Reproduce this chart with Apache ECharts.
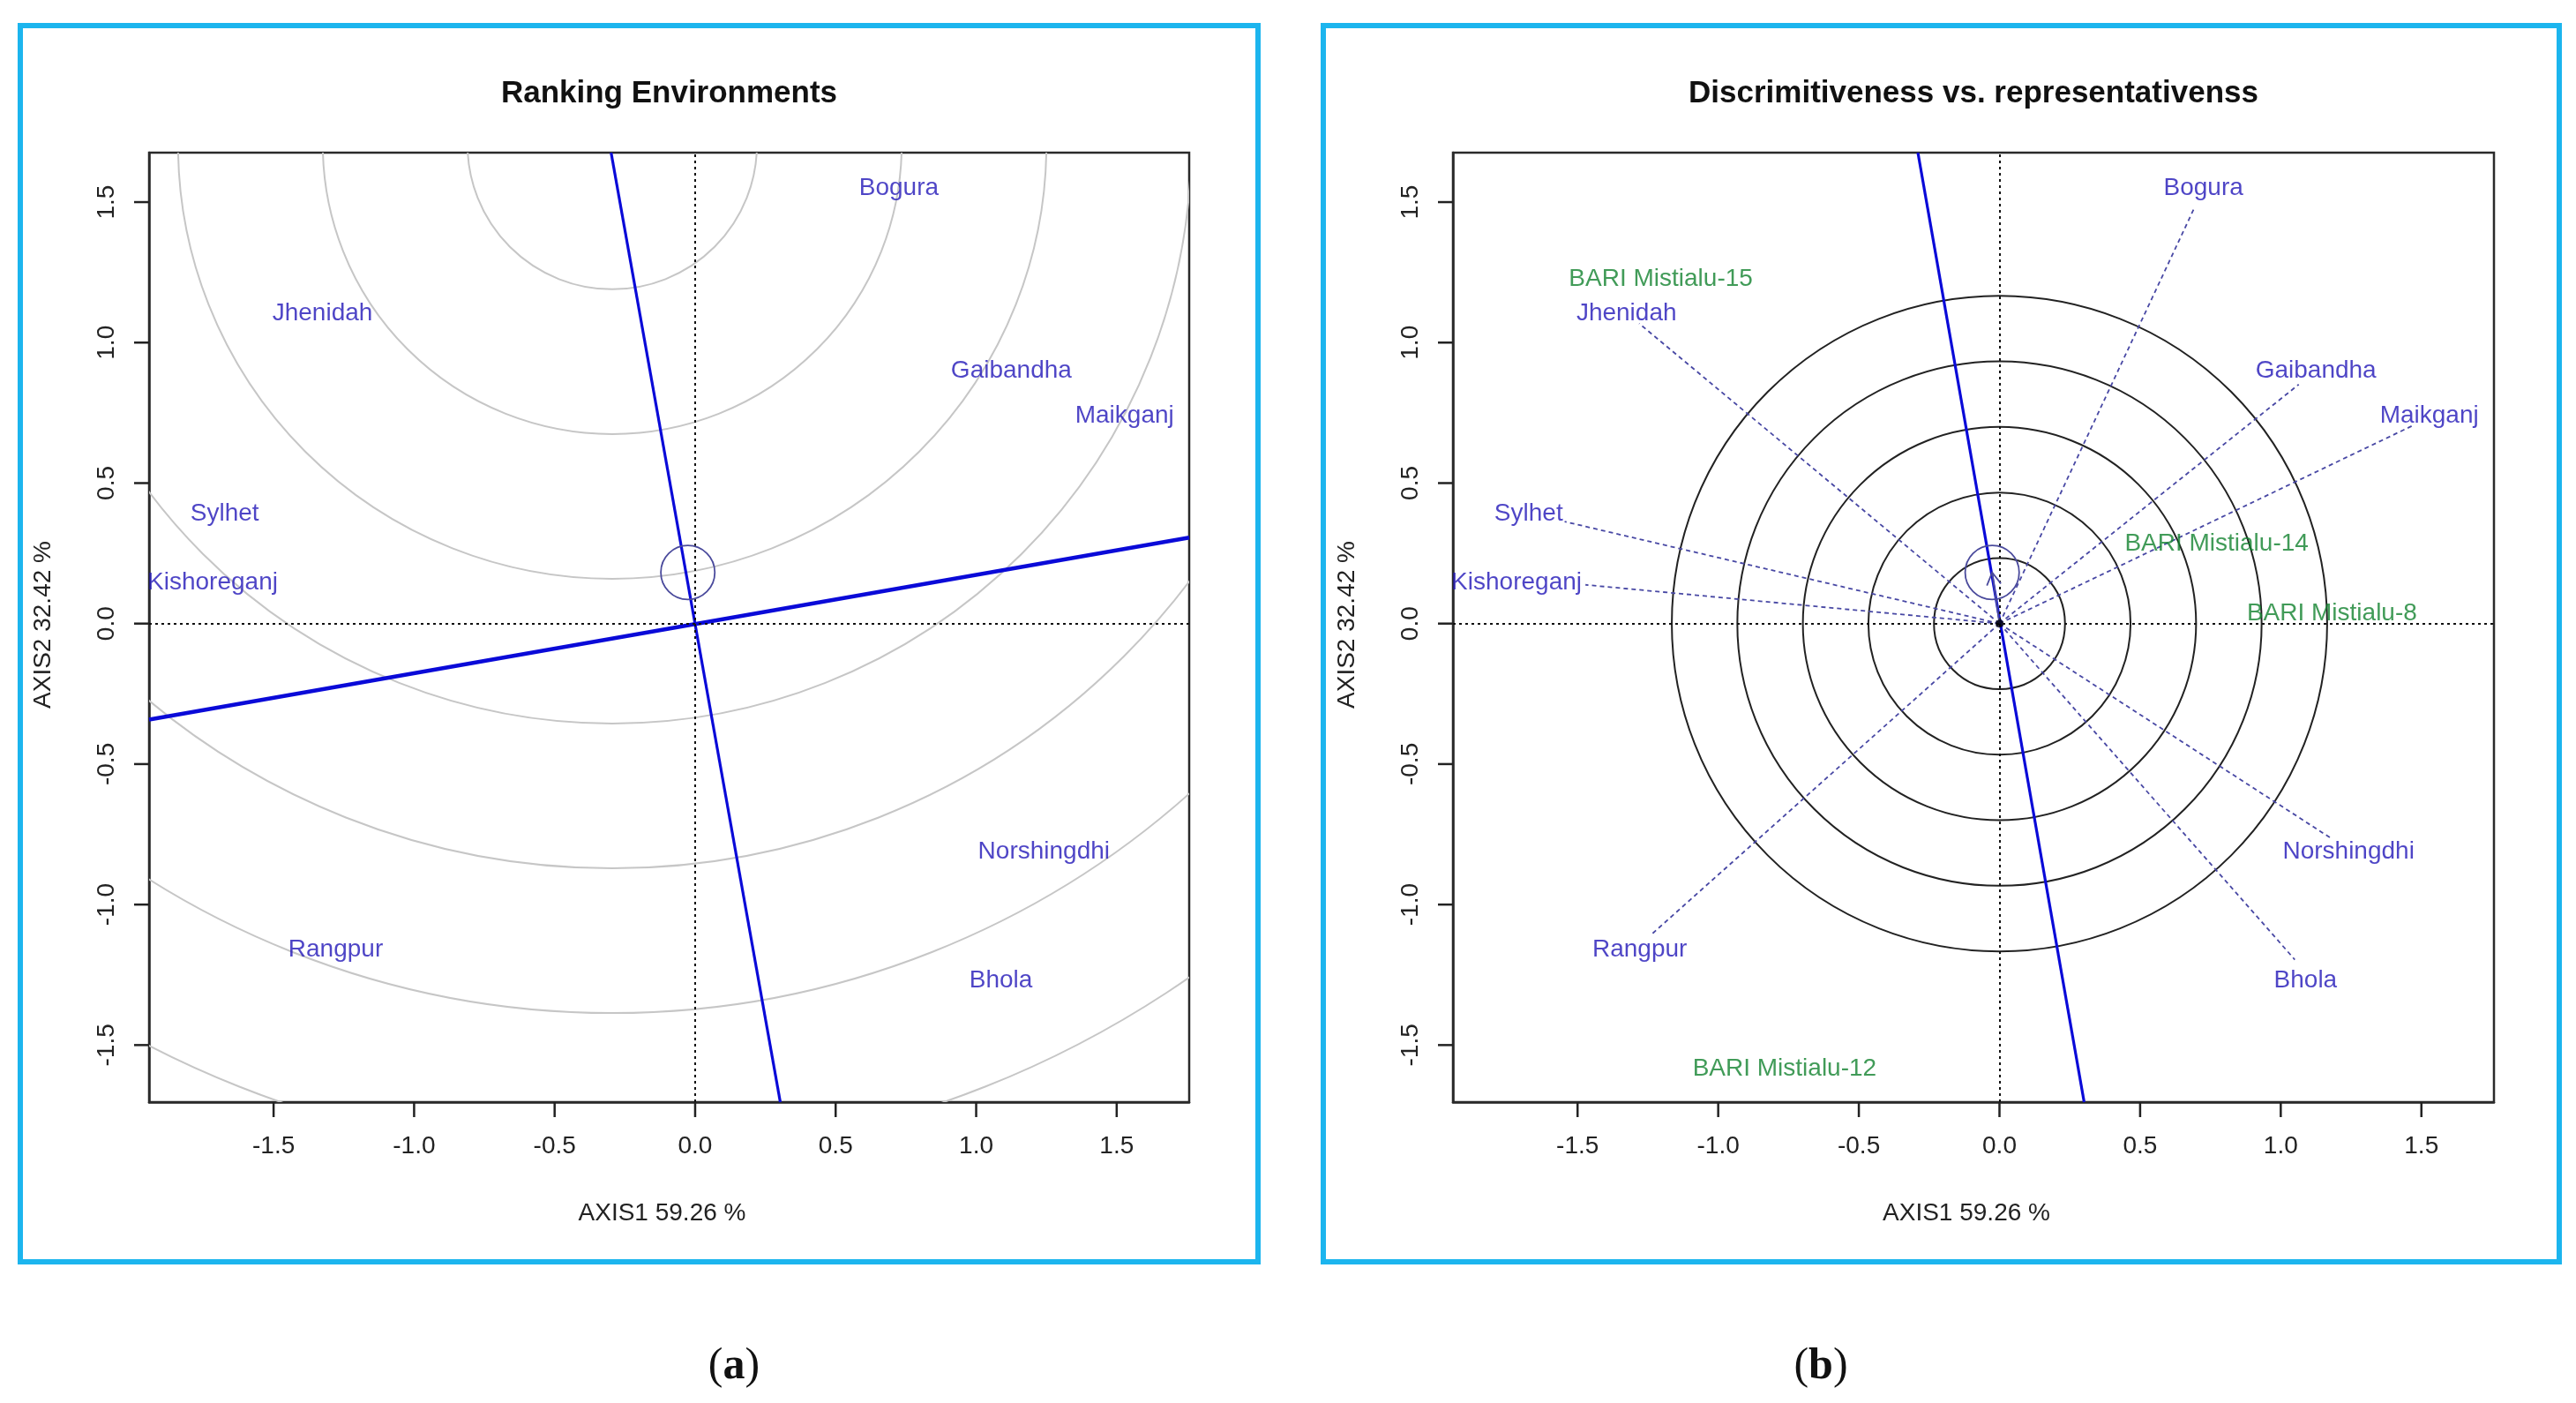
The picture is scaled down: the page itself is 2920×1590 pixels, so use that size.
<!DOCTYPE html>
<html>
<head>
<meta charset="utf-8">
<script src="https://cdn.jsdelivr.net/npm/echarts@6/dist/echarts.min.js"></script>
<style>
html,body{margin:0;padding:0;background:#fff;}
#main{width:2920px;height:1590px;}
</style>
</head>
<body>
<div id="main"></div>
<script>
// ---------------- data ----------------
const tickValues = [-1.5, -1.0, -0.5, 0.0, 0.5, 1.0, 1.5];
const xRange = [-1.943, 1.758];
const yRange = [-1.703, 1.676];

const envNames  = ['Bogura','Jhenidah','Gaibandha','Maikganj','Sylhet','Kishoreganj','Norshingdhi','Rangpur','Bhola'];
const envLabelX = [0.725, -1.326, 1.125, 1.528, -1.674, -1.717, 1.241, -1.279, 1.088];
const envLabelY = [1.549, 1.104, 0.898, 0.739, 0.391, 0.146, -0.813, -1.160, -1.272];
const envVecX   = [0.695, -1.281, 1.064, 1.474, -1.546, -1.472, 1.182, -1.237, 1.050];
const envVecY   = [1.484, 1.068, 0.851, 0.707, 0.363, 0.138, -0.766, -1.106, -1.196];

const genoNames = ['BARI Mistialu-15','BARI Mistialu-14','BARI Mistialu-8','BARI Mistialu-12'];
const genoX = [-1.204, 0.772, 1.182, -0.764];
const genoY = [1.225, 0.284, 0.036, -1.583];

const avgEnv = [-0.026, 0.182];
const avgRadius = 0.096;

const idealPoint = [-0.295, 1.705];
const rankRadii = [0.515, 1.03, 1.545, 2.06, 2.575, 3.09, 3.605];
const discRadii = [0.233, 0.466, 0.699, 0.932, 1.165];

const aeaLineA = [[-0.299, 1.676], [0.303, -1.703]];
const aecLineA = [[-1.943, -0.342], [1.758, 0.306]];
const aeaLineB = [[-0.290, 1.676], [0.301, -1.703]];

const titles = ['Ranking Environments', 'Discrimitiveness vs. representativenss'];
const xTitle = 'AXIS1 59.26 %';
const yTitle = 'AXIS2 32.42 %';
const panelTags = ['a', 'b'];

// ---------------- layout ----------------
const FONT = '"Liberation Sans", Arial, sans-serif';
const grids = [
  {left: 169, top: 173, width: 1179, height: 1076},
  {left: 1647, top: 173, width: 1180, height: 1076}
];
const frames = [
  {x: 23, y: 29, w: 1403, h: 1401},
  {x: 1500, y: 29, w: 1401, h: 1401}
];
const BLUE_TXT = '#2216b8';
const GREEN_TXT = '#12822e';
const FRAME_COLOR = '#2a2a2a';
const TICK_LEN = 17;

function makeXAxis(i) {
  return {
    gridIndex: i, type: 'value', min: xRange[0], max: xRange[1], position: 'bottom',
    axisLine: {show: true, onZero: false, lineStyle: {color: FRAME_COLOR, width: 2.5}},
    splitLine: {show: false},
    axisTick: {show: false},
    axisLabel: {customValues: tickValues, formatter: v => v.toFixed(1), fontSize: 28, color: '#222',
      margin: 36, fontFamily: FONT}
  };
}
function makeYAxis(i) {
  return {
    gridIndex: i, type: 'value', min: yRange[0], max: yRange[1], position: 'left',
    axisLine: {show: true, onZero: false, lineStyle: {color: FRAME_COLOR, width: 2.5}},
    splitLine: {show: false},
    axisTick: {show: false},
    axisLabel: {customValues: tickValues, formatter: v => v.toFixed(1), fontSize: 28, color: '#222',
      margin: 34, rotate: 90, fontFamily: FONT}
  };
}

// tick marks drawn through the axis scales (outside the frame)
function tickSeries(i, horizontal) {
  return {
    type: 'custom', xAxisIndex: i, yAxisIndex: i, clip: false, silent: true, z: 8,
    data: tickValues.map(v => horizontal ? [v, yRange[0]] : [xRange[0], v]),
    encode: {x: 0, y: 1},
    renderItem: (params, api) => {
      const c = api.coord([api.value(0), api.value(1)]);
      const shape = horizontal
        ? {x1: c[0], y1: c[1], x2: c[0], y2: c[1] + TICK_LEN}
        : {x1: c[0], y1: c[1], x2: c[0] - TICK_LEN, y2: c[1]};
      return {type: 'line', shape: shape, style: {stroke: '#222', lineWidth: 2.5}};
    }
  };
}

function circles(i, center, radii, color, width, z) {
  return {
    type: 'custom', xAxisIndex: i, yAxisIndex: i, clip: true, silent: true, z: z || 2,
    data: radii.map(r => [center[0], center[1], r]),
    encode: {x: 0, y: 1},
    renderItem: (params, api) => {
      const c = api.coord([api.value(0), api.value(1)]);
      const rr = api.size([api.value(2), 0])[0];
      return {type: 'circle', shape: {cx: c[0], cy: c[1], r: rr},
        style: {fill: null, stroke: color, lineWidth: width}};
    }
  };
}
function straight(i, pts, color, width, z) {
  return {
    type: 'line', xAxisIndex: i, yAxisIndex: i, data: pts, symbol: 'none', silent: true,
    clip: true, z: z || 4, lineStyle: {color: color, width: width}, animation: false
  };
}
function axesDots(i) {
  return {
    type: 'line', xAxisIndex: i, yAxisIndex: i, data: [], silent: true, z: 3,
    markLine: {
      silent: true, symbol: 'none', animation: false, label: {show: false},
      lineStyle: {color: '#111', width: 2, type: [3, 4]},
      data: [{xAxis: 0}, {yAxis: 0}]
    }
  };
}
function labels(i, xs, ys, names, color) {
  return {
    type: 'scatter', xAxisIndex: i, yAxisIndex: i, symbolSize: 0, silent: true, z: 6,
    data: xs.map((x, k) => ({name: names[k], value: [x, ys[k]]})),
    label: {show: true, position: 'inside', formatter: '{b}', color: color, fontSize: 28, fontFamily: FONT},
    emphasis: {disabled: true}, labelLayout: {hideOverlap: false}
  };
}

const series = [];
// ---- panel (a)
series.push(circles(0, idealPoint, rankRadii, '#c6c6c6', 2, 2));
series.push(axesDots(0));
series.push(straight(0, aeaLineA, '#0a0ad8', 3.2, 4));
series.push(straight(0, aecLineA, '#0a0ad8', 4.6, 4));
series.push(circles(0, avgEnv, [avgRadius], '#4a4a9c', 1.8, 5));
series.push(labels(0, envLabelX, envLabelY, envNames, BLUE_TXT));
series.push(tickSeries(0, true));
series.push(tickSeries(0, false));

// ---- panel (b)
series.push(circles(1, [0, 0], discRadii, '#222', 2, 2));
series.push(axesDots(1));
series.push({
  type: 'custom', xAxisIndex: 1, yAxisIndex: 1, clip: true, silent: true, z: 3,
  data: envVecX.map((x, k) => [x, envVecY[k]]),
  encode: {x: 0, y: 1},
  renderItem: (params, api) => {
    const o = api.coord([0, 0]);
    const p = api.coord([api.value(0), api.value(1)]);
    return {type: 'line', shape: {x1: o[0], y1: o[1], x2: p[0], y2: p[1]},
      style: {stroke: '#4848a4', lineWidth: 1.8, lineDash: [5, 4]}};
  }
});
series.push(straight(1, aeaLineB, '#0a0ad8', 3.2, 4));
series.push(circles(1, avgEnv, [avgRadius], '#4a4a9c', 1.8, 5));
series.push({
  type: 'custom', xAxisIndex: 1, yAxisIndex: 1, clip: true, silent: true, z: 5,
  data: [[avgEnv[0], avgEnv[1]]],
  encode: {x: 0, y: 1},
  renderItem: (params, api) => {
    const o = api.coord([0, 0]);
    const p = api.coord([api.value(0), api.value(1)]);
    const ang = Math.atan2(p[1] - o[1], p[0] - o[0]);
    const L = 16, a = Math.PI / 6;
    const l1 = [p[0] - L * Math.cos(ang - a), p[1] - L * Math.sin(ang - a)];
    const l2 = [p[0] - L * Math.cos(ang + a), p[1] - L * Math.sin(ang + a)];
    const st = {stroke: '#4a4a9c', lineWidth: 1.8, fill: null};
    return {type: 'group', children: [
      {type: 'line', shape: {x1: o[0], y1: o[1], x2: p[0], y2: p[1]}, style: st},
      {type: 'polyline', shape: {points: [l1, p, l2]}, style: st}
    ]};
  }
});
series.push({
  type: 'scatter', xAxisIndex: 1, yAxisIndex: 1, data: [[0, 0]], symbolSize: 9, silent: true, z: 6,
  itemStyle: {color: '#000'}
});
series.push(labels(1, envLabelX, envLabelY, envNames, BLUE_TXT));
series.push(labels(1, genoX, genoY, genoNames, GREEN_TXT));
series.push(tickSeries(1, true));
series.push(tickSeries(1, false));

// ---------------- graphics (frames, titles, axis titles, panel tags) ----------------
const graphic = [];
frames.forEach(f => graphic.push({
  type: 'rect', shape: {x: f.x, y: f.y, width: f.w, height: f.h},
  style: {fill: null, stroke: '#1cb5ee', lineWidth: 6}, silent: true, z: 10
}));
grids.forEach((g, i) => {
  const cx = g.left + g.width / 2;
  const cy = g.top + g.height / 2;
  graphic.push({type: 'text', x: cx, y: 106, silent: true,
    style: {text: titles[i], font: 'bold 35px ' + FONT, fill: '#111', align: 'center', verticalAlign: 'middle'}});
  graphic.push({type: 'text', x: cx - 8, y: 1375, silent: true,
    style: {text: xTitle, font: '28px ' + FONT, fill: '#222', align: 'center', verticalAlign: 'middle'}});
  graphic.push({type: 'text', x: g.left - 120, y: cy - 3, rotation: Math.PI / 2, silent: true,
    style: {text: yTitle, font: '28px ' + FONT, fill: '#222', align: 'center', verticalAlign: 'middle'}});
});
[832, 2064].forEach((x, i) => graphic.push({
  type: 'text', x: x, y: 1549, silent: true,
  style: {
    text: '{p|(}{t|' + panelTags[i] + '}{p|)}', align: 'center', verticalAlign: 'middle',
    rich: {
      p: {font: '50px "Liberation Serif", "Times New Roman", serif', fill: '#111'},
      t: {font: 'bold 50px "Liberation Serif", "Times New Roman", serif', fill: '#111'}
    }
  }
}));

const chart = echarts.init(document.getElementById('main'), null, {renderer: 'canvas'});
chart.setOption({
  animation: false,
  backgroundColor: '#fff',
  grid: grids.map(g => Object.assign({show: true, borderColor: FRAME_COLOR, borderWidth: 2.5, backgroundColor: 'transparent'}, g)),
  xAxis: [makeXAxis(0), makeXAxis(1)],
  yAxis: [makeYAxis(0), makeYAxis(1)],
  series: series,
  graphic: graphic
});
</script>
</body>
</html>
